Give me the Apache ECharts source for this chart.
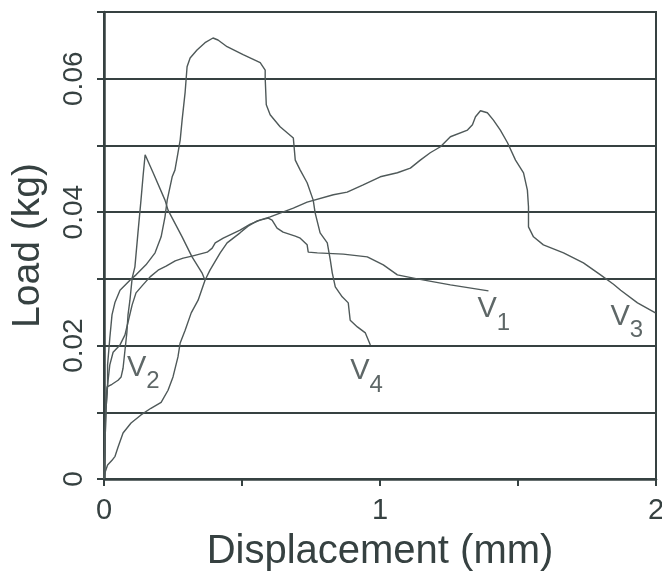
<!DOCTYPE html>
<html>
<head>
<meta charset="utf-8">
<script src="https://cdn.jsdelivr.net/npm/echarts@6/dist/echarts.min.js"></script>
<style>
  html, body { margin: 0; padding: 0; background: #ffffff; }
  #chart { width: 662px; height: 571px; }
</style>
</head>
<body>
<div id="chart"></div>
<script>
// ---- data (displacement mm, load kg) ----
const xTickLabels = ['0', '1', '2'];
const yTickLabels = ['0', '0.02', '0.04', '0.06'];

const curveV1 = [
  [0,0],[0.004,0.0058],[0.007,0.0103],[0.013,0.0141],[0.021,0.0171],[0.033,0.0190],
  [0.058,0.0201],[0.076,0.0216],[0.087,0.0235],[0.102,0.0261],[0.116,0.0279],[0.141,0.0291],
  [0.167,0.0303],[0.196,0.0313],[0.225,0.0319],[0.258,0.0327],[0.287,0.0331],[0.319,0.0334],
  [0.374,0.0340],[0.392,0.0346],[0.403,0.0354],[0.432,0.0361],[0.493,0.0373],[0.530,0.0382],
  [0.566,0.0388],[0.595,0.0391],[0.609,0.0388],[0.627,0.0376],[0.649,0.0370],[0.693,0.0364],
  [0.711,0.0361],[0.736,0.0351],[0.740,0.0340],[0.773,0.0339],[0.867,0.0337],[0.954,0.0333],
  [1.012,0.0321],[1.063,0.0306],[1.135,0.0300],[1.255,0.0291],[1.393,0.0282]
];

const curveV2 = [
  [0,0],[0.004,0.0073],[0.007,0.0118],[0.011,0.0138],[0.029,0.0142],[0.051,0.0148],
  [0.062,0.0153],[0.069,0.0166],[0.076,0.0193],[0.083,0.0220],[0.087,0.0246],[0.094,0.0268],
  [0.102,0.0301],[0.112,0.0318],[0.123,0.0369],[0.134,0.0418],[0.142,0.0456],[0.149,0.0486],
  [0.178,0.0459],[0.221,0.0418],[0.232,0.0403],[0.283,0.0363],[0.319,0.0333],[0.355,0.0309],
  [0.366,0.0298]
];

const curveV3 = [
  [0,0],[0.004,0.0010],[0.013,0.0021],[0.029,0.0028],[0.040,0.0034],[0.051,0.0048],
  [0.069,0.0069],[0.098,0.0084],[0.134,0.0096],[0.170,0.0106],[0.207,0.0115],[0.232,0.0133],
  [0.250,0.0153],[0.268,0.0183],[0.276,0.0204],[0.294,0.0223],[0.316,0.0249],[0.341,0.0268],
  [0.366,0.0298],[0.384,0.0313],[0.421,0.0339],[0.446,0.0354],[0.493,0.0369],[0.522,0.0379],
  [0.555,0.0387],[0.602,0.0393],[0.686,0.0406],[0.736,0.0415],[0.831,0.0426],[0.881,0.0430],
  [0.939,0.0441],[1.001,0.0453],[1.063,0.0459],[1.110,0.0466],[1.146,0.0478],[1.182,0.0489],
  [1.219,0.0498],[1.255,0.0513],[1.317,0.0523],[1.335,0.0531],[1.346,0.0543],[1.364,0.0552],
  [1.389,0.0549],[1.411,0.0538],[1.436,0.0523],[1.462,0.0504],[1.491,0.0478],[1.520,0.0459],
  [1.534,0.0433],[1.538,0.0408],[1.538,0.0378],[1.556,0.0363],[1.592,0.0351],[1.665,0.0339],
  [1.737,0.0324],[1.799,0.0306],[1.846,0.0292],[1.872,0.0283],[1.933,0.0264],[1.998,0.0249]
];

const curveV4 = [
  [0,0],[0.004,0.0058],[0.007,0.0103],[0.013,0.0141],[0.013,0.0171],[0.021,0.0211],
  [0.029,0.0246],[0.040,0.0265],[0.058,0.0283],[0.094,0.0298],[0.116,0.0306],[0.152,0.0321],
  [0.185,0.0339],[0.207,0.0363],[0.221,0.0393],[0.229,0.0418],[0.247,0.0453],[0.257,0.0463],
  [0.268,0.0489],[0.276,0.0508],[0.283,0.0538],[0.294,0.0580],[0.301,0.0618],[0.312,0.0631],
  [0.337,0.0643],[0.366,0.0654],[0.395,0.0661],[0.413,0.0658],[0.446,0.0648],[0.504,0.0636],
  [0.566,0.0624],[0.584,0.0613],[0.584,0.0601],[0.588,0.0561],[0.602,0.0546],[0.638,0.0528],
  [0.686,0.0511],[0.693,0.0478],[0.711,0.0463],[0.736,0.0444],[0.758,0.0418],[0.765,0.0399],
  [0.783,0.0369],[0.809,0.0354],[0.820,0.0328],[0.827,0.0309],[0.838,0.0288],[0.863,0.0273],
  [0.885,0.0264],[0.892,0.0238],[0.918,0.0228],[0.947,0.0219],[0.965,0.0201]
];

// curve label anchors (data coords) and subscripts
const curveNames = ['1', '2', '3', '4'];
const labelAnchors = [[1.353, 0.0258], [0.083, 0.0170], [1.835, 0.0247], [0.892, 0.0165]];

// ---- chart ----
const ink = '#364141';
const lineInk = '#4f5959';
const fontFam = '"Liberation Sans", Arial, sans-serif';

const chart = echarts.init(document.getElementById('chart'), null, { renderer: 'canvas' });

function curveSeries(data) {
  return {
    type: 'line', data: data, showSymbol: false, symbol: 'none', smooth: false,
    lineStyle: { color: lineInk, width: 1.4 }, z: 3, silent: true, animation: false
  };
}

chart.setOption({
  animation: false,
  backgroundColor: '#ffffff',
  grid: {
    left: 104, right: 6, top: 12, bottom: 92,
    show: true, borderColor: ink, borderWidth: 2,
    containLabel: false, outerBoundsMode: 'none'
  },
  xAxis: {
    type: 'value', min: 0, max: 2, interval: 0.5,
    name: 'Displacement (mm)', nameLocation: 'middle', nameGap: 53,
    nameTextStyle: { fontSize: 40, color: ink, fontFamily: fontFam },
    axisLine: { show: true, onZero: false, lineStyle: { color: ink, width: 2.5 } },
    axisTick: { show: true, inside: false, length: 7, lineStyle: { color: ink, width: 2 } },
    axisLabel: {
      fontSize: 29, color: ink, fontFamily: fontFam, margin: 17,
      formatter: function (v) {
        const r = Math.round(v * 2);
        return (r % 2 === 0) ? xTickLabels[r / 2] : '';
      }
    },
    splitLine: { show: false }
  },
  yAxis: {
    type: 'value', min: 0, max: 0.07, interval: 0.01,
    name: 'Load (kg)', nameLocation: 'middle', nameGap: 56,
    nameTextStyle: { fontSize: 39, color: ink, fontFamily: fontFam },
    axisLine: { show: true, onZero: false, lineStyle: { color: ink, width: 2.5 } },
    axisTick: { show: true, inside: false, length: 7, lineStyle: { color: ink, width: 2 } },
    axisLabel: {
      fontSize: 28, color: ink, fontFamily: fontFam, rotate: 90, margin: 16,
      formatter: function (v) {
        const r = Math.round(v * 100);
        return (r % 2 === 0 && r / 2 < yTickLabels.length) ? yTickLabels[r / 2] : '';
      }
    },
    splitLine: { show: true, lineStyle: { color: ink, width: 2 } }
  },
  series: [
    curveSeries(curveV1),
    curveSeries(curveV2),
    curveSeries(curveV3),
    curveSeries(curveV4),
    {
      type: 'scatter', symbolSize: 0, z: 4, silent: true,
      data: labelAnchors.map(function (p, i) { return { value: p, name: curveNames[i] }; }),
      label: {
        show: true, position: 'right', distance: 0, offset: [0, 8],
        formatter: function (p) { return '{v|V}{s|' + p.name + '}'; },
        rich: {
          v: { fontSize: 29, color: ink, fontFamily: fontFam, verticalAlign: 'top', lineHeight: 40 },
          s: { fontSize: 24, color: ink, fontFamily: fontFam, verticalAlign: 'bottom', lineHeight: 40 }
        }
      }
    }
  ]
});
</script>
</body>
</html>
